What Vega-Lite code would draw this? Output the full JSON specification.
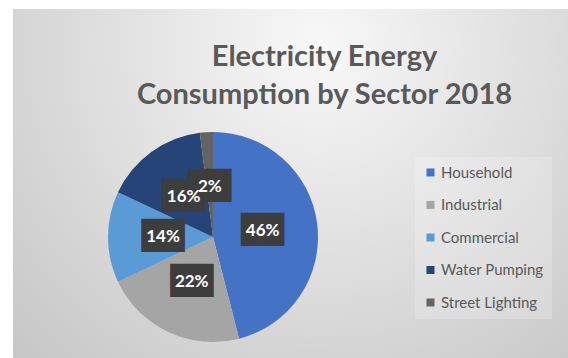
{
  "$schema": "https://vega.github.io/schema/vega-lite/v6.json",
  "width": 568,
  "height": 358,
  "autosize": {"type": "fit", "contains": "padding"},
  "padding": {"left": 13, "top": 9, "right": 0, "bottom": 0},
  "background": "#ffffff",
  "title": {
    "text": ["Electricity Energy", "Consumption by Sector 2018"],
    "anchor": "middle",
    "frame": "group",
    "orient": "top",
    "offset": -101,
    "dx": 34,
    "font": "Lato",
    "fontSize": 29,
    "fontWeight": "bold",
    "color": "#595959",
    "lineHeight": 38
  },
  "data": {
    "values": [
      {"sector": "Household", "share": 46, "idx": 1, "label": "46%"},
      {"sector": "Industrial", "share": 22, "idx": 2, "label": "22%"},
      {"sector": "Commercial", "share": 14, "idx": 3, "label": "14%"},
      {"sector": "Water Pumping", "share": 16, "idx": 4, "label": "16%"},
      {"sector": "Street Lighting", "share": 2, "idx": 5, "label": "2%"}
    ]
  },
  "layer": [
    {
      "mark": {
        "type": "rect",
        "fill": {
          "gradient": "radial",
          "x1": 0.55, "y1": 0.25, "r1": 0,
          "x2": 0.55, "y2": 0.25, "r2": 0.85,
          "stops": [
            {"offset": 0, "color": "#f8f8f8"},
            {"offset": 1, "color": "#c2c2c2"}
          ]
        },
        "stroke": null
      }
    },
    {
      "mark": {"type": "arc", "outerRadius": 105, "x": 200, "y": 228, "stroke": null},
      "encoding": {
        "theta": {"field": "share", "type": "quantitative", "stack": true},
        "order": {"field": "idx", "type": "quantitative"},
        "color": {
          "field": "sector",
          "type": "nominal",
          "sort": ["Household", "Industrial", "Commercial", "Water Pumping", "Street Lighting"],
          "scale": {
            "domain": ["Household", "Industrial", "Commercial", "Water Pumping", "Street Lighting"],
            "range": ["#4472C4", "#A5A5A5", "#5B9BD5", "#264478", "#636363"]
          },
          "legend": {
            "title": null,
            "orient": "none",
            "legendX": 402,
            "legendY": 148,
            "symbolType": "square",
            "symbolSize": 64,
            "symbolStrokeWidth": 0,
            "labelFont": "Lato",
            "labelFontSize": 15,
            "labelColor": "#595959",
            "labelOffset": 3,
            "rowPadding": 16.5,
            "padding": 8,
            "fillColor": "rgba(255,255,255,0.2)"
          }
        }
      }
    },
    {
      "mark": {"type": "text", "radius": 50, "x": 200, "y": 228, "text": "██", "font": "DejaVu Sans", "fontSize": 28, "baseline": "middle", "align": "center"},
      "encoding": {
        "theta": {"field": "share", "type": "quantitative", "stack": true},
        "order": {"field": "idx", "type": "quantitative"},
        "detail": {"field": "sector", "type": "nominal"},
        "color": {"value": "#3d3d3d"}
      }
    },
    {
      "mark": {"type": "text", "radius": 50, "x": 200, "y": 228, "font": "Lato", "fontSize": 17, "fontWeight": "bold", "baseline": "middle", "align": "center"},
      "encoding": {
        "theta": {"field": "share", "type": "quantitative", "stack": true},
        "order": {"field": "idx", "type": "quantitative"},
        "detail": {"field": "sector", "type": "nominal"},
        "text": {"field": "label", "type": "nominal"},
        "color": {"value": "#ffffff"}
      }
    }
  ],
  "config": {
    "view": {"stroke": null}
  }
}
